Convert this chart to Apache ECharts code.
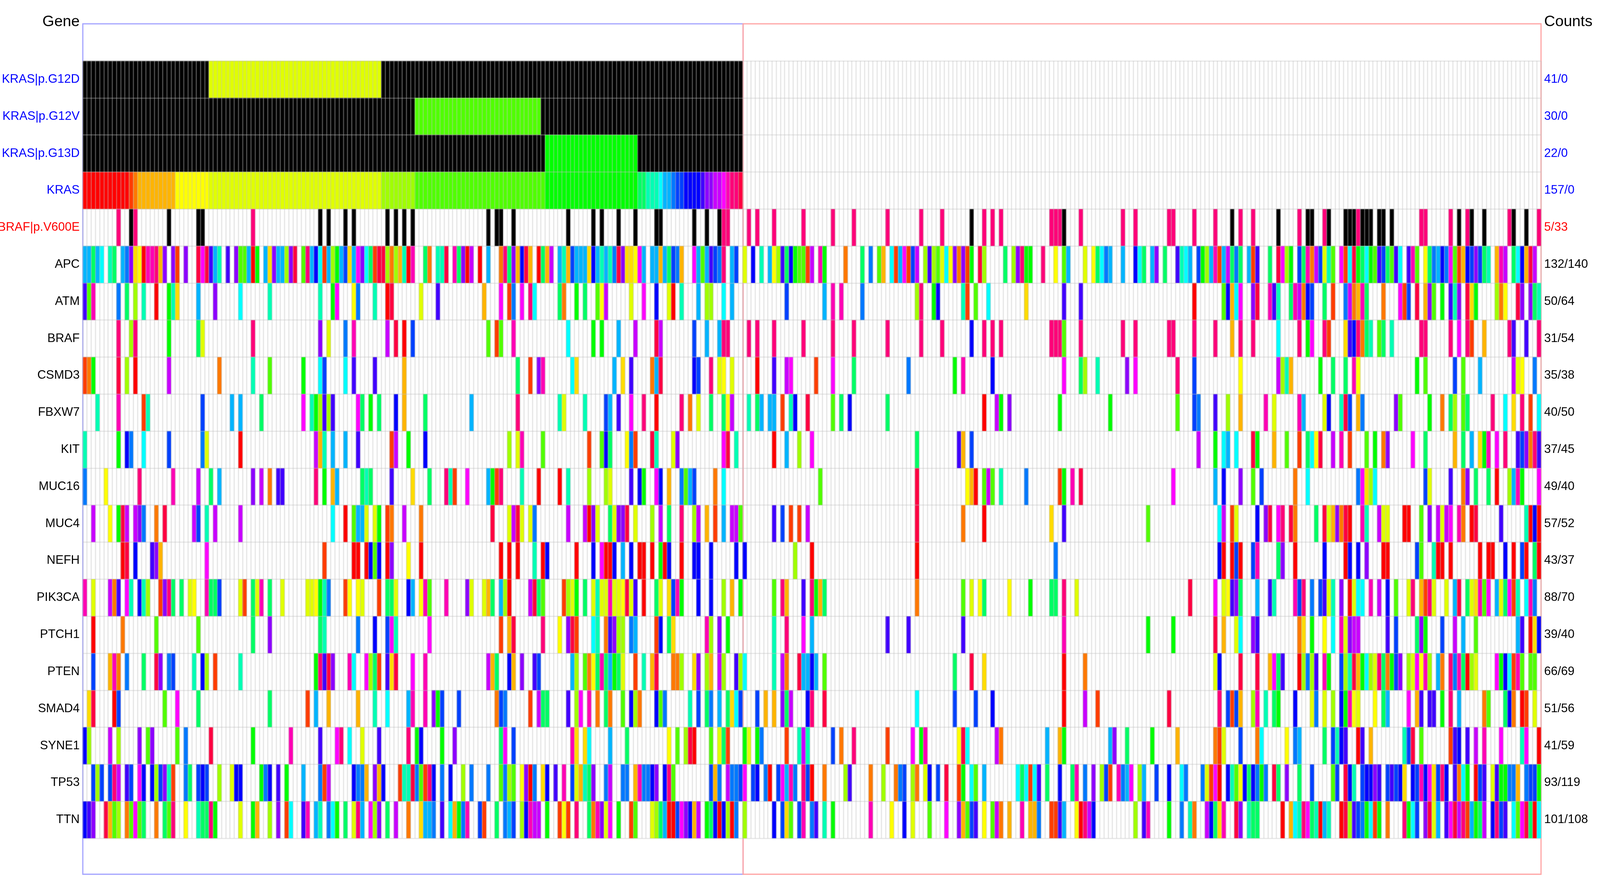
<!DOCTYPE html>
<html>
<head>
<meta charset="utf-8">
<style>html,body{margin:0;padding:0;background:#fff;overflow:hidden}#c{width:100vw;height:100vh}</style>
<script src="https://cdn.jsdelivr.net/npm/echarts@6/dist/echarts.min.js"></script>
</head>
<body>
<div id="c"></div>
<script>
const HUES = {r:'#ff0000',e:'#ff3c00',o:'#ff7800',u:'#ffb400',d:'#ffdc00',y:'#ffff00',l:'#e0ff00',h:'#a0ff00',n:'#50ff00',g:'#00ff00',s:'#00ff64',t:'#00ffb4',c:'#00ffff',a:'#00b4ff',f:'#0078ff',q:'#0040ff',b:'#0000ff',i:'#4000ff',v:'#8c00ff',w:'#c800ff',m:'#ff00ff',p:'#ff00b4',j:'#ff0078',x:'#ff0040',k:'#000000'};
const GENES = ['KRAS|p.G12D','KRAS|p.G12V','KRAS|p.G13D','KRAS','BRAF|p.V600E','APC','ATM','BRAF','CSMD3','FBXW7','KIT','MUC16','MUC4','NEFH','PIK3CA','PTCH1','PTEN','SMAD4','SYNE1','TP53','TTN'];
const COUNTS = ['41/0','30/0','22/0','157/0','5/33','132/140','50/64','31/54','35/38','40/50','37/45','49/40','57/52','43/37','88/70','39/40','66/69','51/56','41/59','93/119','101/108'];
const SAMPLES_LEFT = 157;
const SAMPLES_RIGHT = 190;
const BLOCK_STARTS = [0,50,100,157,207,257,302];

const KRAS_G12D = ["0-29k 30-70l 71-156k"];
const KRAS_G12V = ["0-78k 79-108n 109-156k"];
const KRAS_G13D = ["0-109k 110-131g 132-156k"];
const KRAS = ["0-10r 11e 12o 13-21u 22-29y 30-70l 71-78h 79-109n 110-131g 132-133s 134-136t 137c 138-139a 140f 141-142q 143-146b 147i 148-149v 150-151w 152m 153p 154-155j 156x"];
const BRAF_V600E = [
"8j 11k 12j 20k 27k 28k 40j",
"6k 8k 12k 14k 22k 24k 26k 28k 46k 48k 49k",
"2k 15k 21k 23k 27k 31k 36k 37k 45k 48k 51k 52j 53j",
"1j 3j 7j 14j 21j 26j 34j 42j 47j",
"4k 7j 9j 11j 23j 24j 25j 26k 30j 40j 43j",
"1j 2j 7j 12j 16k 18j 21j 27k 32j 34k 35k 38j 39k 43k 44k",
"0k 1j 2k 3k 4k 6k 7k 9k 16j 17j 23j 25k 27j 28k 31k 37j 38k 41k 44j"];
const APC = [
"0a 1a 2s 3a 4c 6t 7s 9a 10f 11v 12d 13y 14r 15p 16p 17j 18u 19v 21v 22e 24v 27x 28m 29x 30i 31a 32t 34i 36v 37n 38n 39a 40r 41g 43a 44d 45v 46a 47a 48h 49v",
"0x 2n 3j 4a 5b 6c 7e 8a 9h 10g 11a 12q 13d 14a 15m 16v 17c 18s 19e 20x 21x 22h 23o 24h 25u 26t 27r 28p 31s 32o 34t 35t 36x 38p 39s 40v 41r 42w 44r 46a 49o",
"0j 1s 2v 3u 4b 5x 6u 8r 9s 10u 11w 13a 14t 15u 16q 17a 18a 19a 20d 21b 22a 23t 24a 25t 26f 27x 28v 29d 30d 31y 32m 33a 35a 36a 37u 38a 39s 40q 41f 42u 45m 46a 47n 48a 49i 50q 51f 52j 54a 55q",
"0l 2b 4t 6a 7y 8h 9i 10s 11b 12g 13n 14n 15e 16w 18p 19g 24o 28s 30f 32n 33u 35c 36e 37a 38m 39e 40q 41w 43h 44i 45h 46n 47l 48c 49y",
"0v 1o 2v 3e 4g 6x 7h 12s 14h 15v 16j 17g 18g 21j 24y 26n 27a 31l 33y 34s 35c 36f 37a 40a 43b 44c 45s 47a 48v",
"0s 3i 4t 5c 6a 8q 9g 10h 11a 12p 13e 14a 15w 16s 17f 18s 20a 21e 22i 25s 27x 28m 29h 30g 32q 33s 34p 35o 36w 37q 38l 39t 40n 42m 43e 44c",
"0x 1g 2s 3c 4g 5n 6i 7q 8s 9n 10i 11c 13i 14p 15n 17y 18s 19f 20a 21b 22f 23m 24n 25e 26u 27b 28q 29v 30q 31s 32t 34u 35p 36w 38s 39c 40b 41u 42x 43w"];
const ATM = [
"0i 1n 2p 8f 10s 12h 14t 17r 20g 21t 22d 27a 31v 37c 44t",
"6t 9g 10m 14y 15f 19t 22r 23x 30l 34i 45u 49m",
"1e 2f 4m 6j 7c 13s 14o 17g 19s 22n 23y 24w 30l 33m 36b 39l 40r 42t 46a 48h 49h 52c 54a",
"10q 19a 21p 23p 28f 41h 42j 45g 46b",
"2t 3e 5n 8c 17d 26i 30i",
"7r 14n 15b 16u 17c 18m 21v 22x 25p 26i 27t 30s 31p 32w 33o 34b 35q 38s 40e 43f 44w",
"0o 1u 2p 3s 7o 11m 12e 13q 15x 17u 18v 19n 21g 23i 24t 25v 27x 28d 29g 34h 35o 36y 39x 40v 42v 43s 44t"];
const BRAF = [
"8j 11h 12j 20g 27s 28l 40j",
"6v 8l 12f 14p 22w 24x 26r 28q 46n 48e 49n",
"2p 15c 21g 23g 27a 31w 36x 37w 45q 48a 51a 52j 53j",
"1j 3j 7j 14j 21j 26j 34j 42j 47j",
"4b 7j 9j 11j 23j 24j 25j 26n 30j 40j 43j",
"1j 2j 7j 12j 16u 18j 21j 27c 32j 34g 35m 38j 39e 43d 44i",
"0b 1j 2o 3s 4t 6n 7s 9t 16j 17j 23j 25m 27j 28e 31u 37j 38i 41i 44j"];
const CSMD3 = [
"0e 1o 2g 8x 10h 12r 20w 32o 40t 44n",
"2g 6c 7q 12c 14i 19i 26u",
"3s 6e 8v 9p 16c 17d 26a 28d 30i 35o 36a 37x 45b 46q 49j 51l 52y 54l",
"3r 7i 10w 11m 17e 21m 26s 39f",
"0g 2p 9b 26m 30s 31h 34t 41v 43m",
"3j 7q 18y 27w 28h 29t 30u 37g 40s 43s",
"0p 1y 15g 17n 24q 26n 30a 38w 39l 40y 43f"];
const FBXW7 = [
"3t 8p 14e 15t 28q 35a 37a 42s",
"2m 4t 5g 6h 7i 8h 9i 15m 16s 18g 20s 24b 26u 31s 42a",
"3j 13t 14l 19t 24q 25a 27i 30m 33j 36r 42j 44o 46l 49s 52s 53y 54w",
"1t 3s 4a 6a 7a 9e 11t 12b 15x 21n 23s 25b 34s",
"7r 10w 11g 13v 25g 37g",
"3n 7q 8f 12i 15h 18u 24p 26l 32p 33a 38l 39b 42t 43x 44q",
"1u 2f 10v 11n 18g 21o 23s 24h 26n 27s 33j 36c 38d 40j 42e 44c"];
const KIT = [
"0t 8g 10b 11f 14c 20q 28f 29l 37r",
"5w 6u 7t 9a 12a 15i 23e 24w 27g 31b",
"1h 3l 4p 9n 20e 23n 24b 25s 29y 30f 31e 35x 36t 40l 41v 52m 53x 55t",
"7r 10a 13h 16m 41s",
"1i 2u 4q",
"8w 12g 14c 15a 17c 21x 22g 26u 29n 32e 34s 35c 36y 37x 40w 42p 44e",
"3n 5g 7o 8v 14m 17s 24u 26s 28a 30d 31g 32p 34m 36j 39i 40q 41v 42o 43j 44i"];
const MUC16 = [
"0f 5y 13j 21p 27w 30s 32a 40v 42w 44o 46i 47i",
"5j 7g 9u 10a 16s 17t 18s 23i 28d 32s 36j 37t 38e 41m 46a 47g 48e 49j",
"4t 8r 13r 15t 20h 24h 25l 30i 32b 33g 36m 37b 39u 42f 43n 44a 45q 50o 52c",
"18n 41x",
"3y 4u 5r 7n 8w 9n 11t 17f 25e 26g 28p 30x",
"2m 12a 14b 18v 21n 23q 31o 34c",
"1f 2m 3d 4h 5c 17q 18l 23i 26o 27v 29s 32s 34r 37h 38a 39p 40g 44m"];
const MUC4 = [
"2w 6y 8g 9x 10w 12w 13v 14f 17o 19x 26w 27q 29t 31w 37w",
"9c 12r 14n 15a 16a 17l 19l 20g 22e 23o 26w 30o 47x",
"1l 2w 3x 4l 6l 7f 15w 19w 20r 21v 22l 25s 26l 27v 28v 29x 31l 35h 37w 39s 42j 45h 46w 48u 50e 52a 54w 55w 56n",
"7i 9q 11e 13e 15w 41x",
"2o 7r 23d 26i 46n",
"13c 14w 16e 17l 22b 24v 25x 27m 28j 30x 31o 36s 38x 39l 40u 41v 42o 43x 44r",
"2p 3t 6w 7l 8l 12r 13r 16n 18v 20w 21l 22w 23m 25p 26o 28r 29x 35i 41t 42r 43b 44r"];
const NEFH = [
"9r 10x 12b 16i 17v 18u 29m",
"7e 14r 15r 17r 18b 19n 20b 22r 23v 27y 30r 49r",
"1r 3r 7t 9r 10b 17r 21b 23m 24r 25r 26b 28a 30b 32r 33r 35r 37g 38r 39b 42r 45b 46b 49b 55b",
"0b 12h 16r 41r",
"24f",
"13b 14r 16r 17q 18r 21q 22p 27s 28v 31r 38b 43r 44b",
"1b 3v 7r 8r 15q 16n 19t 20r 21r 23r 30r 32r 33r 36b 38r 40q 41r 43s 44r"];
const PIK3CA = [
"0p 2l 6w 7o 8i 10m 11t 13b 14t 15h 18e 19v 20j 21s 23s 25l 26y 29p 30s 31s 32q 37l 38e 40s 41l 42p 44s 47l",
"3l 4l 5y 6g 7t 8f 12e 13y 15y 16l 20e 22s 23s 24l 27b 28a 30y 31p 32n 36p 41v 42l 45l 46u 47s 49a",
"0h 1r 6w 7x 8s 9n 14e 15h 16l 17g 19s 21l 22t 23l 24l 25p 26l 27l 28y 29x 30l 31i 33r 36s 37l 39d 40q 41p 42g 46b 49b 52h 54u 56g",
"7n 9j 10u 14i 16j 17g 18u 19s 41o",
"2n 4l 6y 7s 13y 18g 23s 24s 26j 29l",
"6x 12m 14l 15y 16i 17v 18s 22a 25i 26t 31p 32q 33j 35f 37q 38i 39l 40t 42v 44r",
"0l 1c 2c 4p 6w 8b 10n 13l 14j 16u 17e 18j 19l 22l 24a 25x 27s 28l 29d 30p 31n 32m 34a 35l 36s 37m 38e 39t 41c 42p 43f"];
const PTCH1 = [
"2r 9o 17n 27n 40s 44v",
"6s 7t 15f 19b 22q 23m 24t 32m 49e",
"1u 2x 9j 13y 15v 16x 17e 21c 22t 24o 25i 26v 27h 28h 30f 31a 36e 37b 39s 40d 48p 49h 51v 53g",
"7t 10j 14m 16a 34i 39i",
"2i 26p 46g",
"2g 12x 14u 17l 18c 21v 22i 32o 33d 35g 38y 40c 42p 43l 44v",
"0w 1w 8i 10q 15s 16v 17g 21q 24w 26a 29n 39a 40i 42r 43d 44b"];
const PTEN = [
"2q 6u 7p 8o 10f 14s 17x 18v 20f 21q 26t 28b 29h 31e 37t",
"5g 6j 7i 8x 9v 13p 14c 17m 18h 19s 20e 22i 23d 24x 28m 31p 46w 47u 48s",
"1b 2u 4v 7i 8q 16a 17h 19n 20o 21y 22s 23p 24s 25a 26g 27s 28l 31e 33t 35u 36x 40o 41o 42h 45d 46v 48h 49u 51w 52h 55i 56h",
"0c 7t 9w 10o 13x 14a 15a 16b 17a 19n",
"0s 4x 7d 26r 31o",
"12l 13b 18x 22x 25u 26m 27s 28i 32r 33h 34f 35h 36i 38p 39g 42q 43h 44t",
"0x 1u 2g 3c 4h 5l 6j 7s 8o 9g 10q 11v 13h 14l 15m 16y 17p 18h 20a 21o 23j 24f 25p 26s 27r 28h 29l 34m 35g 36b 37c 38e 39p 40n 42n 43n"];
const SMAD4 = [
"1d 2x 7r 8q 19n 22m 27s 44s",
"3e 5a 8u 15u 19t 22c 27a 28p 31p 33v 34g 35q 39q 48o 49q",
"0f 6e 8w 9s 10s 15i 17h 18m 20p 22o 24s 25o 28n 30b 31h 32o 36b 37n 38f 44t 46q 48s 49f 51a 53s 54d 55c 56q",
"3q 5u 7u 9v 10s 11w 15b 16j 19x 41c",
"0q 5q 9b 26r 31w 34e",
"1x 13j 15q 16e 17q 18u 21h 22p 24t 26s 27g 31b 35l 36f 38l 40h 42b 43g 44p",
"0y 1l 5y 7s 8a 13m 15u 16i 18i 19i 21g 23j 25a 31o 32n 36s 37b 38o 40r 41e 43l"];
const SYNE1 = [
"0b 1h 6w 8h 13v 15n 16v 22n 24f 30x 40g 49p",
"6i 10m 11j 13c 16l 20i 27j 29g 30b 35g 38v 49s",
"0m 2q 16p 17d 19d 20c 25a 29s 39y 41n 43h 44x 45r 49n 51l 52s 53e",
"0g 1l 3g 4f 10e 13t 14w 15t 21q 23o 26j 34e 40m 42g 43p",
"1y 2x 3c 10w 11o 22a 25u 26g 37a 38v 41s 47g",
"3u 12o 13e 14l 18q 22o 23c 29y 31f 32a 38s 40q 41t 42b 43i",
"1r 2i 4u 12t 13q 14x 16n 23e 24i 25b 27i 29w 31p 35m 40t 41m 44r"];
const TP53 = [
"2q 3h 4q 6q 7j 8w 10i 11q 13m 14b 16b 17h 18q 19v 20t 21e 24f 25s 27q 28b 29q 32h 35l 36b 37b 42g 43f 44b 46i 48g",
"2a 6f 7e 8w 14b 15f 16f 17u 19v 20u 21b 25e 26t 27t 28x 29f 30n 31e 32j 33b 35f 37b 40h 42f 46f 49n",
"0f 1h 2n 4y 5v 6r 7f 9d 10b 12i 14p 16q 17l 18u 19t 20s 21v 24f 25w 28f 29f 31u 32p 33f 34f 35b 36v 38b 39j 40n 49q 50u 51f 53w 54f 55f 56q",
"0m 2q 3b 5f 6r 8q 9m 10a 11p 12f 14j 15q 16r 19o 24h 25i 30o 33h 36o 37f 38q 40h 41o 43l 44b 46q 48x",
"1e 2g 4c 5n 7a 15c 16s 17c 18e 19c 20i 22s 25b 28s 29p 31f 33v 35h 36q 37e 39p 40f 41a 42m 44h 45a 48q",
"1b 4c 5f 9f 10l 11e 12m 13r 15b 16t 17n 18y 19b 20s 21b 22f 23g 24f 26x 27s 29v 32s 35q 40n 41q 43x 44b",
"0t 2q 3b 4b 5v 6i 8q 9i 10q 11b 12d 14b 15q 16p 17b 18m 19d 20q 21j 22b 24i 25o 26c 27g 29r 30q 31i 33l 34i 35g 36g 37f 38f 39u 41f 42q 43q 44g"];
const TTN = [
"0b 1i 2v 5x 6u 7n 8h 10o 11n 12m 13n 14s 17o 19s 20n 21j 24y 27t 28s 29s 30j 31g 37l 40g 41u 44h 46v 48e 49c",
"2i 3p 5a 6t 8f 9c 10g 12s 14l 15j 16a 18m 19h 20v 22s 24w 27o 30d 31a 32a 33f 35i 37c 38u 39g 40f 41p 44q 45e 48s",
"0f 1a 2q 4h 5b 6p 7w 8w 10g 13e 14y 15e 17j 20s 21o 22p 23v 24l 25m 27g 30e 31n 35l 36h 37s 38a 39r 40r 41q 42m 43v 44b 45u 46w 48g 49s 50b 51r 52b 53h 54r 55f",
"0h 7b 9q 10d 11n 13q 14p 16f 17i 19t 21g 30p 35y 38b 40l 44n 48m",
"1v 2u 3n 4q 5i 7y 9n 10w 11o 13u 16p 18u 19u 20f 23e 24e 25i 26a 29y 30r 31j 32w 33b 43h 45i 46p",
"1g 4f 6t 7o 10w 11b 12s 13d 14p 17x 18v 20t 21s 22s 28r 30u 31c 32t 33j 34m 35s 36t 37r 38a 39t 42r 43x 44h",
"0i 1q 2f 3g 4c 5e 6g 8o 12j 13g 14c 15q 17v 18x 19l 20a 22i 23m 24x 25w 26j 27e 28a 29g 30s 31w 33b 34j 35q 36i 38c 39n 40m 41x 42s 43r 44c"];

const ROWS = [KRAS_G12D,KRAS_G12V,KRAS_G13D,KRAS,BRAF_V600E,APC,ATM,BRAF,CSMD3,FBXW7,KIT,MUC16,MUC4,NEFH,PIK3CA,PTCH1,PTEN,SMAD4,SYNE1,TP53,TTN];

const hueKeys = Object.keys(HUES);
const sampleIds = Array.from({length: SAMPLES_LEFT + SAMPLES_RIGHT}, (_, i) => String(i));
const cells = [];
ROWS.forEach((segments, y) => {
  segments.forEach((seg, b) => {
    seg.split(' ').forEach(tok => {
      const m = tok.match(/^(\d+)(?:-(\d+))?([a-z])$/);
      const from = +m[1] + BLOCK_STARTS[b];
      const to = (m[2] ? +m[2] : +m[1]) + BLOCK_STARTS[b];
      for (let x = from; x <= to; x++) cells.push([x, y, hueKeys.indexOf(m[3])]);
    });
  });
});

const dom = document.getElementById('c');
const W = dom.clientWidth, H = dom.clientHeight;
const SX = W / 5101, SY = H / 2241;        // layout was measured on the 5101 x 2241 picture
const FS = Math.min(1, SX + 0.013);        // text scale: keep the labels inside the shrunken margins
const X = v => Math.round(v * SX * 100) / 100;
const Y = v => Math.round(v * SY * 100) / 100;

const labelColor = (i) => i < 4 ? '#0000ff' : (i === 4 ? '#ff0000' : '#000000');
const FONT = '"Liberation Sans", Arial, sans-serif';
const GRIDLINE = {color: 'rgba(190,190,190,0.36)', width: Math.max(2, 4 * SX)};
const hiddenAxis = (gridIndex) => ({type:'value', gridIndex, show:false, min:0, max:1});
const titleFont = {fontFamily:FONT, fontSize:Math.round(48*FS), fontWeight:'normal', color:'#000'};
const labelFont = {fontFamily:FONT, fontSize:Math.round(38*FS)};

const chart = echarts.init(dom, null, {renderer:'canvas', width:W, height:H});
chart.setOption({
  animation:false,
  backgroundColor:'#ffffff',
  title:[
    {text:'Gene', right:W - X(254), top:Y(37), padding:0, textStyle:titleFont},
    {text:'Counts', left:X(4923), top:Y(37), padding:0, textStyle:titleFont}
  ],
  grid:[
    {left:X(264), top:Y(61), width:X(2105), height:Y(2178), show:true, backgroundColor:'transparent', borderColor:'#a4a4ff', borderWidth:3, containLabel:false, outerBoundsMode:'none'},
    {left:X(2369), top:Y(61), width:X(2544), height:Y(2178), show:true, backgroundColor:'transparent', borderColor:'#ffa4a4', borderWidth:3, containLabel:false, outerBoundsMode:'none'},
    {left:X(264), top:Y(156), width:X(4649), height:Y(1991), show:false, containLabel:false, outerBoundsMode:'none'}
  ],
  xAxis:[
    hiddenAxis(0), hiddenAxis(1),
    {type:'category', gridIndex:2, data:sampleIds, z:5, axisLine:{show:false}, axisTick:{show:false}, axisLabel:{show:false},
     splitLine:{show:true, interval:0, lineStyle:GRIDLINE}}
  ],
  yAxis:[
    hiddenAxis(0), hiddenAxis(1),
    {type:'category', gridIndex:2, data:GENES, inverse:true, position:'left', z:5, axisLine:{show:false}, axisTick:{show:false},
     splitLine:{show:true, interval:0, lineStyle:GRIDLINE},
     axisLabel:Object.assign({interval:0, margin:X(10), color:(v,i)=>labelColor(i)}, labelFont)},
    {type:'category', gridIndex:2, data:COUNTS, inverse:true, position:'right', z:5, axisLine:{show:false}, axisTick:{show:false}, splitLine:{show:false},
     axisLabel:Object.assign({interval:0, margin:X(10), color:(v,i)=>labelColor(i)}, labelFont)}
  ],
  visualMap:{type:'piecewise', show:false, dimension:2, seriesIndex:0,
    pieces:hueKeys.map((k,i)=>({value:i, color:HUES[k]}))},
  series:[{type:'heatmap', xAxisIndex:2, yAxisIndex:2, data:cells, progressive:0, itemStyle:{borderWidth:0}, emphasis:{disabled:true}}]
});
</script>
</body>
</html>
